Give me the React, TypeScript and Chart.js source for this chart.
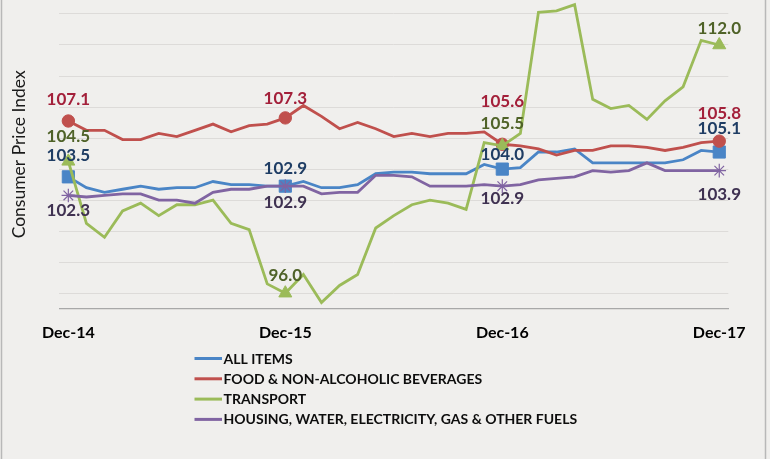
import React, { useEffect, useRef } from 'react';
import { Chart, registerables } from 'chart.js';

Chart.register(...registerables);

const months = [
  'Dec-14', 'Jan-15', 'Feb-15', 'Mar-15', 'Apr-15', 'May-15', 'Jun-15', 'Jul-15', 'Aug-15', 'Sep-15', 'Oct-15', 'Nov-15',
  'Dec-15', 'Jan-16', 'Feb-16', 'Mar-16', 'Apr-16', 'May-16', 'Jun-16', 'Jul-16', 'Aug-16', 'Sep-16', 'Oct-16', 'Nov-16',
  'Dec-16', 'Jan-17', 'Feb-17', 'Mar-17', 'Apr-17', 'May-17', 'Jun-17', 'Jul-17', 'Aug-17', 'Sep-17', 'Oct-17', 'Nov-17',
  'Dec-17',
];

const allItems = [
  103.5, 102.8, 102.5, 102.7, 102.9, 102.7, 102.8, 102.8, 103.2, 103.0, 103.0, 102.9,
  102.9, 103.2, 102.8, 102.8, 103.0, 103.7, 103.8, 103.8, 103.7, 103.7, 103.7, 104.3,
  104.0, 104.1, 105.1, 105.1, 105.3, 104.4, 104.4, 104.4, 104.4, 104.4, 104.6, 105.2,
  105.1,
];

const food = [
  107.1, 106.5, 106.5, 105.9, 105.9, 106.3, 106.1, 106.5, 106.9, 106.4, 106.8, 106.9,
  107.3, 108.1, 107.4, 106.6, 107.0, 106.6, 106.1, 106.3, 106.1, 106.3, 106.3, 106.4,
  105.6, 105.5, 105.3, 104.9, 105.2, 105.2, 105.5, 105.5, 105.4, 105.2, 105.4, 105.7,
  105.8,
];

const transport = [
  104.5, 100.5, 99.6, 101.3, 101.8, 101.0, 101.7, 101.7, 102.0, 100.5, 100.1, 96.6,
  96.0, 97.2, 95.4, 96.5, 97.2, 100.2, 101.0, 101.7, 102.0, 101.8, 101.4, 105.7,
  105.5, 106.3, 114.1, 114.2, 114.6, 108.5, 107.9, 108.1, 107.2, 108.4, 109.3, 112.3,
  112.0,
];

const housing = [
  102.3, 102.2, 102.3, 102.4, 102.4, 102.0, 102.0, 101.8, 102.5, 102.7, 102.7, 102.9,
  102.9, 102.9, 102.4, 102.5, 102.5, 103.6, 103.6, 103.5, 102.9, 102.9, 102.9, 103.0,
  102.9, 103.0, 103.3, 103.4, 103.5, 103.9, 103.8, 103.9, 104.4, 103.9, 103.9, 103.9,
  103.9,
];

const seriesNames = [
  'ALL ITEMS',
  'FOOD & NON-ALCOHOLIC BEVERAGES',
  'TRANSPORT',
  'HOUSING, WATER, ELECTRICITY, GAS & OTHER FUELS',
];

const labeledIndices = [0, 12, 24, 36];
const yTitle = 'Consumer Price Index';

// styling
const lineColors = ['#4a85c6', '#c0504d', '#9bbb59', '#8064a2'];
const labelColors = ['#1f3d64', '#a3203a', '#4f6228', '#3f3151'];
const pointStyles = ['rect', 'circle', 'triangle', 'star'];
const pointRadii = [8.6, 6.2, 7.5, 6.8];
const labelOffsets = [
  [-21, -18, -15, -24],
  [-21, -19, -43, -28],
  [-25, -18, -22, -16],
  [15, 16, 12, 24],
];

const FONT = 'Lato, "Open Sans", "DejaVu Sans", sans-serif';

const bgPlugin = {
  id: 'bgFrame',
  beforeDraw(chart: any) {
    const { ctx, width, height } = chart;
    ctx.save();
    ctx.fillStyle = '#f0efed';
    ctx.fillRect(0, 0, width, height);
    ctx.strokeStyle = '#b8b8b8';
    ctx.lineWidth = 1.5;
    ctx.beginPath();
    ctx.moveTo(1.5, 0);
    ctx.lineTo(1.5, height);
    ctx.moveTo(765.5, 0);
    ctx.lineTo(765.5, height);
    ctx.stroke();
    ctx.restore();
  },
};

const labelPlugin = {
  id: 'pointLabels',
  afterDatasetsDraw(chart: any) {
    const { ctx } = chart;
    ctx.save();
    ctx.font = `bold 17px ${FONT}`;
    ctx.textAlign = 'center';
    ctx.textBaseline = 'middle';
    chart.data.datasets.forEach((ds: any, di: number) => {
      const meta = chart.getDatasetMeta(di);
      labeledIndices.forEach((idx, k) => {
        const el = meta.data[idx];
        if (!el) return;
        ctx.fillStyle = labelColors[di];
        ctx.fillText(Number(ds.data[idx]).toFixed(1), el.x, el.y + labelOffsets[di][k]);
      });
    });
    ctx.restore();
  },
};

const legendPlugin = {
  id: 'stackedLegend',
  afterDraw(chart: any) {
    const { ctx } = chart;
    ctx.save();
    ctx.font = `bold 14px ${FONT}`;
    ctx.textAlign = 'left';
    ctx.textBaseline = 'middle';
    chart.data.datasets.forEach((ds: any, i: number) => {
      const y = 358.5 + i * 20.3;
      ctx.strokeStyle = ds.borderColor;
      ctx.lineWidth = 3;
      ctx.beginPath();
      ctx.moveTo(194.5, y);
      ctx.lineTo(222, y);
      ctx.stroke();
      ctx.fillStyle = '#0d0d0d';
      ctx.fillText(ds.label, 223.5, y + 0.5);
    });
    ctx.restore();
  },
};

export default function App() {
  const ref = useRef<HTMLCanvasElement | null>(null);

  useEffect(() => {
    if (!ref.current) return;
    const seriesData = [allItems, food, transport, housing];
    const datasets = seriesData.map((d, i) => ({
      label: seriesNames[i],
      data: d,
      borderColor: lineColors[i],
      backgroundColor: lineColors[i],
      borderWidth: 2.8,
      tension: 0,
      order: 3 - i,
      pointStyle: pointStyles[i],
      pointBorderColor: lineColors[i],
      pointBackgroundColor: lineColors[i],
      pointBorderWidth: i === 3 ? 1.2 : 1,
      pointRadius: (c: any) => (c.dataIndex % 12 === 0 ? pointRadii[i] : 0),
      pointHoverRadius: 0,
      clip: 10,
    }));

    const chart = new Chart(ref.current, {
      type: 'line',
      data: { labels: months, datasets },
      options: {
        responsive: false,
        animation: false,
        events: [],
        layout: { autoPadding: false, padding: { left: 0, right: 41.7, top: 0, bottom: 110.3 } },
        plugins: {
          legend: { display: false },
          tooltip: { enabled: false },
        },
        scales: {
          x: {
            type: 'category',
            offset: true,
            grid: { display: false, drawTicks: false },
            border: { display: true, color: '#a8a8a8', width: 1.3 },
            ticks: {
              autoSkip: false,
              maxRotation: 0,
              minRotation: 0,
              padding: 15,
              color: '#000000',
              font: { family: FONT, size: 16, weight: 'bold' },
              callback: (_v: any, idx: number) => (idx % 12 === 0 ? months[idx] : ''),
            },
            afterFit: (scale: any) => {
              scale.height = 40;
              scale.paddingLeft = 0;
              scale.paddingRight = 0;
            },
          },
          y: {
            min: 95,
            max: 114.9,
            border: { display: false },
            grid: {
              drawTicks: false,
              lineWidth: 1,
              color: (c: any) => {
                const v = c.tick ? c.tick.value : 0;
                if (v <= 95.01 || v > 114) return 'rgba(0,0,0,0)';
                return '#dddbd9';
              },
            },
            ticks: { display: false, stepSize: 2 },
            title: {
              display: true,
              text: yTitle,
              color: '#1a1a1a',
              font: { family: FONT, size: 17.5, weight: 'normal' },
              padding: { top: 9, bottom: 0 },
            },
            afterFit: (scale: any) => {
              scale.width = 59.3;
              scale.paddingTop = 0;
              scale.paddingBottom = 0;
            },
          },
        },
      },
      plugins: [bgPlugin, labelPlugin, legendPlugin],
    } as any);

    return () => chart.destroy();
  }, []);

  return (
    <div style={{ position: 'absolute', left: 0, top: 0, width: 770, height: 459 }}>
      <canvas ref={ref} width={770} height={459} style={{ display: 'block', width: 770, height: 459 }} />
    </div>
  );
}
